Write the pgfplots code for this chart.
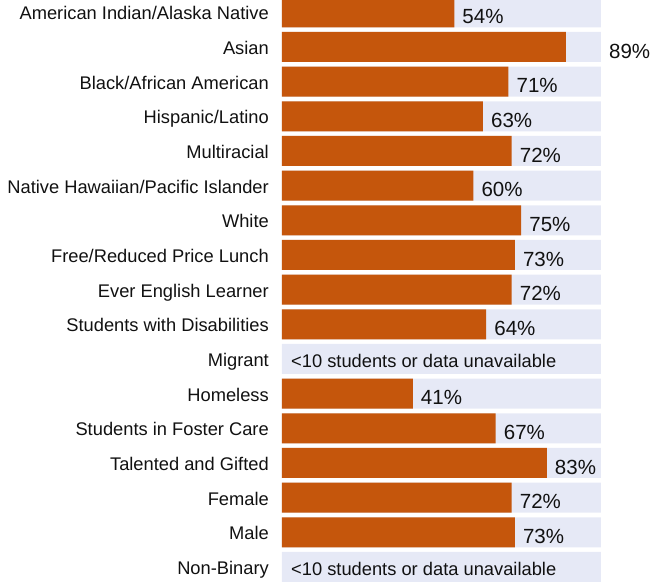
\documentclass[border=0pt]{standalone}
\usepackage{pgfplots}
\pgfplotsset{compat=1.18}
\usepackage{fontspec}
\setmainfont{Liberation Sans}
\definecolor{barorange}{HTML}{C5560C}
\definecolor{bglav}{HTML}{E6E9F6}
\definecolor{txt}{HTML}{111111}
\newcommand\cfont{\fontsize{18.3bp}{22bp}\selectfont}
\newcommand\vfont{\fontsize{20.5bp}{24bp}\selectfont}
\begin{document}
\begin{tikzpicture}
\begin{axis}[
  at={(0,0)}, anchor=south west,
  scale only axis, width=319bp, height=589.3bp,
  xmin=0, xmax=100, ymin=-0.5, ymax=16.5, y dir=reverse,
  hide x axis,
  axis line style={draw=none}, tick style={draw=none},
  ytick={0,...,16}, major tick length=0pt,
  yticklabels={American Indian/Alaska Native, Asian, Black/African American, Hispanic/Latino, Multiracial, Native Hawaiian/Pacific Islander, White, Free/Reduced Price Lunch, Ever English Learner, Students with Disabilities, Migrant, Homeless, Students in Foster Care, Talented and Gifted, Female, Male, Non-Binary},
  yticklabel style={font=\cfont, text=txt, anchor=base east, inner sep=0pt, xshift=-13bp, yshift=-7.5bp},
  clip=false,
]
% background bars
\addplot[xbar, bar width=30bp, bar shift=0pt, fill=bglav, draw=none] coordinates {
(100,0) (100,1) (100,2) (100,3) (100,4) (100,5) (100,6) (100,7) (100,8)
(100,9) (100,10) (100,11) (100,12) (100,13) (100,14) (100,15) (100,16)};
% value bars
\addplot[xbar, bar width=30bp, bar shift=0pt, fill=barorange, draw=none] coordinates {
(54,0) (89,1) (71,2) (63,3) (72,4) (60,5) (75,6) (73,7) (72,8) (64,9)
(41,11) (67,12) (83,13) (72,14) (73,15)};
% value labels
\addplot[draw=none, mark=none, nodes near coords, point meta=explicit symbolic,
  nodes near coords style={anchor=base west, font=\vfont, text=txt, inner sep=0pt, xshift=8bp, yshift=-11.1bp}] coordinates {
(54,0) [54\%] (100,1) [89\%] (71,2) [71\%] (63,3) [63\%] (72,4) [72\%]
(60,5) [60\%] (75,6) [75\%] (73,7) [73\%] (72,8) [72\%] (64,9) [64\%]
(41,11) [41\%] (67,12) [67\%] (83,13) [83\%] (72,14) [72\%] (73,15) [73\%]};
% unavailable labels
\addplot[draw=none, mark=none, nodes near coords, point meta=explicit symbolic,
  nodes near coords style={anchor=base west, font=\cfont, text=txt, inner sep=0pt, xshift=9bp, yshift=-9bp}] coordinates {
(0,10) [{<10 students or data unavailable}] (0,16) [{<10 students or data unavailable}]};
\end{axis}
\pgfresetboundingbox
\path[use as bounding box] (-282bp,2.3bp) rectangle (370bp,584.3bp);
\end{tikzpicture}
\end{document}
